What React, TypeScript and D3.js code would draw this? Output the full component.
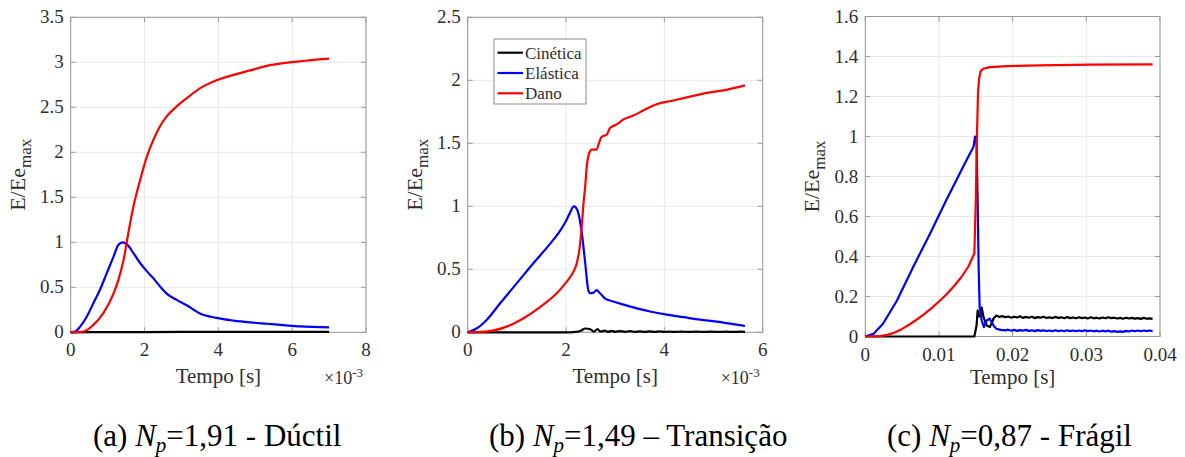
import React from 'react';
import * as d3 from 'd3';

type P = [number, number];

// ---------- Panel (a): Np = 1,91 - Dúctil  (time in 1e-3 s) ----------
const aKin: P[] = [[0, 0], [0.5, 0.001], [1, 0.002], [2, 0.003], [3, 0.004], [4, 0.005], [5, 0.004], [6, 0.005], [7, 0.004]];
const aEla: P[] = [
  [0, 0], [0.12, 0.007], [0.25, 0.06], [0.43, 0.17], [0.61, 0.32], [0.79, 0.47], [0.98, 0.66], [1.16, 0.84],
  [1.29, 0.97], [1.41, 1.0], [1.52, 0.98], [1.7, 0.88], [1.88, 0.77], [2.06, 0.68], [2.24, 0.6], [2.42, 0.51],
  [2.6, 0.43], [2.87, 0.36], [3.14, 0.3], [3.5, 0.21], [3.95, 0.16], [4.41, 0.13], [4.86, 0.11], [5.31, 0.095],
  [5.76, 0.08], [6.21, 0.065], [7.0, 0.055],
];
const aDano: P[] = [
  [0, 0], [0.34, 0.007], [0.61, 0.08], [0.88, 0.21], [1.16, 0.43], [1.29, 0.58], [1.43, 0.8], [1.56, 1.1],
  [1.7, 1.4], [1.88, 1.69], [2.06, 1.95], [2.24, 2.14], [2.42, 2.29], [2.6, 2.4], [2.87, 2.51], [3.14, 2.6],
  [3.5, 2.71], [3.95, 2.8], [4.41, 2.86], [4.86, 2.91], [5.31, 2.96], [5.76, 2.99], [6.21, 3.01], [6.66, 3.03], [7.0, 3.04],
];
const aXTicks = [0, 2, 4, 6, 8];
const aYTicks = [0, 0.5, 1, 1.5, 2, 2.5, 3, 3.5];

// ---------- Panel (b): Np = 1,49 – Transição (time in 1e-3 s) ----------
const bKin: P[] = [
  [0, 0], [2.08, 0], [2.2, 0.003], [2.3, 0.012], [2.39, 0.03], [2.45, 0.028], [2.5, 0.022], [2.57, 0.006],
  [2.64, 0.025], [2.7, 0.006], [2.79, 0.013], [2.85, 0.004], [2.93, 0.011], [3.0, 0.004], [3.1, 0.01], [3.2, 0.004],
  [3.3, 0.009], [3.4, 0.004], [3.5, 0.008], [3.6, 0.003], [3.7, 0.007], [3.8, 0.003], [3.9, 0.007], [4.0, 0.003],
  [4.1, 0.006], [4.2, 0.003], [4.35, 0.006], [4.5, 0.003], [4.65, 0.006], [4.8, 0.003], [4.95, 0.005], [5.1, 0.003],
  [5.25, 0.005], [5.4, 0.003], [5.55, 0.005], [5.64, 0.004],
];
const bEla: P[] = [
  [0, 0], [0.18, 0.03], [0.39, 0.1], [0.66, 0.23], [1.0, 0.39], [1.34, 0.55], [1.67, 0.7], [1.85, 0.79],
  [1.98, 0.87], [2.07, 0.94], [2.16, 1.0], [2.23, 0.97], [2.32, 0.79], [2.39, 0.55], [2.45, 0.34], [2.49, 0.31],
  [2.56, 0.315], [2.62, 0.335], [2.69, 0.31], [2.79, 0.27], [2.96, 0.245], [3.17, 0.22], [3.44, 0.19], [3.71, 0.165],
  [4.05, 0.14], [4.39, 0.12], [4.73, 0.1], [5.06, 0.085], [5.4, 0.065], [5.64, 0.05],
];
const bDano: P[] = [
  [0, 0], [0.45, 0.01], [0.79, 0.045], [1.13, 0.11], [1.47, 0.2], [1.81, 0.31], [2.01, 0.4], [2.15, 0.48],
  [2.22, 0.55], [2.28, 0.68], [2.32, 0.84], [2.35, 1.0], [2.39, 1.16], [2.42, 1.31], [2.47, 1.42], [2.52, 1.45],
  [2.62, 1.45], [2.66, 1.49], [2.72, 1.55], [2.83, 1.57], [2.89, 1.62], [3.03, 1.65], [3.17, 1.69], [3.37, 1.72],
  [3.57, 1.76], [3.84, 1.81], [4.18, 1.84], [4.52, 1.87], [4.86, 1.9], [5.2, 1.92], [5.64, 1.96],
];
const bXTicks = [0, 2, 4, 6];
const bYTicks = [0, 0.5, 1, 1.5, 2, 2.5];

// ---------- Panel (c): Np = 0,87 - Frágil (time in s) ----------
const cKin: P[] = [
  [0, 0], [0.0148, 0], [0.0151, 0.055], [0.01525, 0.13], [0.0154, 0.1], [0.0156, 0.105], [0.0158, 0.145],
  [0.016, 0.105], [0.0163, 0.07], [0.0165, 0.055], [0.0169, 0.047], [0.0172, 0.07], [0.0174, 0.09], [0.0178, 0.105],
  [0.0182, 0.098], [0.0186, 0.102], [0.019, 0.096], [0.0194, 0.1], [0.0198, 0.094], [0.0202, 0.099], [0.0206, 0.095],
  [0.021, 0.101], [0.0214, 0.093], [0.0218, 0.098], [0.0222, 0.094], [0.0226, 0.099], [0.023, 0.092], [0.0234, 0.097],
  [0.0238, 0.094], [0.0242, 0.099], [0.0246, 0.093], [0.025, 0.096], [0.0254, 0.092], [0.0258, 0.098], [0.0262, 0.093],
  [0.0266, 0.096], [0.027, 0.091], [0.0274, 0.097], [0.0278, 0.092], [0.0282, 0.095], [0.0286, 0.091], [0.029, 0.096],
  [0.0294, 0.092], [0.0298, 0.095], [0.0302, 0.09], [0.0306, 0.096], [0.031, 0.091], [0.0314, 0.094], [0.0318, 0.09],
  [0.0322, 0.095], [0.0326, 0.091], [0.033, 0.096], [0.0334, 0.092], [0.0338, 0.094], [0.0342, 0.09], [0.0346, 0.093],
  [0.035, 0.089], [0.0354, 0.094], [0.0358, 0.09], [0.0362, 0.093], [0.0366, 0.089], [0.037, 0.092], [0.0374, 0.088],
  [0.0378, 0.093], [0.0382, 0.089], [0.0386, 0.091], [0.039, 0.088],
];
const cEla: P[] = [
  [0, 0], [0.0011, 0.013], [0.0024, 0.064], [0.0043, 0.18], [0.0065, 0.348], [0.0088, 0.515], [0.011, 0.683],
  [0.0133, 0.85], [0.0147, 0.95], [0.0149, 1.0], [0.0151, 0.967], [0.01525, 0.683], [0.01538, 0.348], [0.01552, 0.147],
  [0.0158, 0.08], [0.0161, 0.047], [0.01647, 0.08], [0.0169, 0.089], [0.0174, 0.055], [0.0178, 0.038], [0.0184, 0.033],
  [0.019, 0.031], [0.0194, 0.034], [0.0198, 0.029], [0.0202, 0.033], [0.0206, 0.028], [0.021, 0.032], [0.0214, 0.029],
  [0.0218, 0.033], [0.0222, 0.028], [0.0226, 0.031], [0.023, 0.027], [0.0234, 0.032], [0.0238, 0.028], [0.0242, 0.031],
  [0.0246, 0.027], [0.025, 0.03], [0.0254, 0.026], [0.0258, 0.031], [0.0262, 0.027], [0.0266, 0.03], [0.027, 0.026],
  [0.0274, 0.031], [0.0278, 0.027], [0.0282, 0.03], [0.0286, 0.026], [0.029, 0.03], [0.0294, 0.027], [0.0298, 0.031],
  [0.0302, 0.027], [0.0306, 0.03], [0.031, 0.026], [0.0314, 0.029], [0.0318, 0.025], [0.0322, 0.029], [0.0326, 0.026],
  [0.033, 0.029], [0.0334, 0.024], [0.0338, 0.027], [0.0342, 0.023], [0.0346, 0.026], [0.035, 0.023], [0.0354, 0.028],
  [0.0358, 0.025], [0.0362, 0.03], [0.0366, 0.026], [0.037, 0.03], [0.0374, 0.026], [0.0378, 0.03], [0.0382, 0.027],
  [0.0386, 0.03], [0.039, 0.027],
];
const cDano: P[] = [
  [0, 0], [0.002, 0.002], [0.003, 0.008], [0.004, 0.02], [0.005, 0.038], [0.006, 0.06], [0.007, 0.085],
  [0.008, 0.112], [0.009, 0.142], [0.01, 0.175], [0.011, 0.21], [0.012, 0.25], [0.013, 0.295], [0.014, 0.35],
  [0.0148, 0.415], [0.015, 0.683], [0.01516, 1.018], [0.0153, 1.218], [0.01543, 1.285], [0.01566, 1.327],
  [0.016, 1.339], [0.0169, 1.347], [0.0192, 1.352], [0.0237, 1.356], [0.0305, 1.359], [0.039, 1.361],
];
const cXTicks = [0, 0.01, 0.02, 0.03, 0.04];
const cYTicks = [0, 0.2, 0.4, 0.6, 0.8, 1, 1.2, 1.4, 1.6];

const seriesNames = ['Cinética', 'Elástica', 'Dano'];
const seriesColors = ['#000000', '#0000ff', '#ff0000'];

const FONT = "'Liberation Serif', 'Times New Roman', 'DejaVu Serif', serif";
const TEXT = '#2e2e2e';
const AXIS = '#9a9a9a';
const GRID = '#e8e8e8';

interface PanelDef {
  left: number; right: number; top: number; bottom: number;
  xMax: number; yMax: number;
  xTicks: number[]; yTicks: number[];
  series: P[][];
  smooth: boolean;
  exponent: boolean;
  xLabelY: number;
  legend: boolean;
  caption: { letter: string; value: string; sep: string; word: string; x: number };
}

const panels: PanelDef[] = [
  {
    left: 70.7, right: 366, top: 17.3, bottom: 332.3, xMax: 8, yMax: 3.5,
    xTicks: aXTicks, yTicks: aYTicks, series: [aKin, aEla, aDano], smooth: true, exponent: true,
    xLabelY: 383, legend: false,
    caption: { letter: '(a) ', value: '=1,91 ', sep: '-', word: ' Dúctil', x: 93 },
  },
  {
    left: 467.7, right: 762.7, top: 17.3, bottom: 332.3, xMax: 6, yMax: 2.5,
    xTicks: bXTicks, yTicks: bYTicks, series: [bKin, bEla, bDano], smooth: true, exponent: true,
    xLabelY: 383, legend: true,
    caption: { letter: '(b) ', value: '=1,49 ', sep: '–', word: ' Transição', x: 489 },
  },
  {
    left: 865.3, right: 1160, top: 16.5, bottom: 336.5, xMax: 0.04, yMax: 1.6,
    xTicks: cXTicks, yTicks: cYTicks, series: [cKin, cEla, cDano], smooth: false, exponent: false,
    xLabelY: 384, legend: false,
    caption: { letter: '(c) ', value: '=0,87 ', sep: '-', word: ' Frágil', x: 887 },
  },
];

function fmt(v: number): string {
  return String(v);
}

const serif = { fontFamily: FONT };

function Panel({ p }: { p: PanelDef }) {
  const x = d3.scaleLinear().domain([0, p.xMax]).range([p.left, p.right]);
  const y = d3.scaleLinear().domain([0, p.yMax]).range([p.bottom, p.top]);
  const line = d3
    .line<P>()
    .x((d) => x(d[0]))
    .y((d) => y(d[1]))
    .curve(p.smooth ? d3.curveMonotoneX : d3.curveLinear);
  const cx = (p.left + p.right) / 2;
  const cy = (p.top + p.bottom) / 2;
  const TL = 5;
  return (
    <g>
      {p.xTicks.map((t) => (
        <line key={'gx' + t} x1={x(t)} x2={x(t)} y1={p.top} y2={p.bottom} stroke={GRID} strokeWidth={1} />
      ))}
      {p.yTicks.map((t) => (
        <line key={'gy' + t} x1={p.left} x2={p.right} y1={y(t)} y2={y(t)} stroke={GRID} strokeWidth={1} />
      ))}
      <rect x={p.left} y={p.top} width={p.right - p.left} height={p.bottom - p.top} fill="none" stroke={AXIS} strokeWidth={1} />
      {p.xTicks.map((t) => (
        <g key={'tx' + t}>
          <line x1={x(t)} x2={x(t)} y1={p.bottom} y2={p.bottom - TL} stroke={AXIS} />
          <line x1={x(t)} x2={x(t)} y1={p.top} y2={p.top + TL} stroke={AXIS} />
          <text x={x(t)} y={p.bottom + 24} textAnchor="middle" style={serif} fontSize={19} fill={TEXT}>
            {fmt(t)}
          </text>
        </g>
      ))}
      {p.yTicks.map((t) => (
        <g key={'ty' + t}>
          <line x1={p.left} x2={p.left + TL} y1={y(t)} y2={y(t)} stroke={AXIS} />
          <line x1={p.right} x2={p.right - TL} y1={y(t)} y2={y(t)} stroke={AXIS} />
          <text x={p.left - 7} y={y(t) + 6} textAnchor="end" style={serif} fontSize={19} fill={TEXT}>
            {fmt(t)}
          </text>
        </g>
      ))}
      {p.series.map((s, i) => (
        <path key={'s' + i} d={line(s) || ''} fill="none" stroke={seriesColors[i]} strokeWidth={2.2} strokeLinejoin="round" />
      ))}
      <text x={cx} y={p.xLabelY} textAnchor="middle" style={serif} fontSize={21} fill={TEXT}>
        Tempo [s]
      </text>
      {p.exponent && (
        <text x={p.right - 3} y={384} textAnchor="end" style={serif} fontSize={18} fill={TEXT}>
          ×10<tspan fontSize={13} dy={-7}>-3</tspan>
        </text>
      )}
      <text
        transform={`translate(${p.left - 46},${cy}) rotate(-90)`}
        textAnchor="middle"
        style={serif}
        fontSize={22}
        fill={TEXT}
      >
        E/Ee<tspan fontSize={17} dy={6}>max</tspan>
      </text>
      {p.legend && (
        <g>
          <rect x={494} y={39} width={92} height={65} fill="#ffffff" stroke="#8c8c8c" strokeWidth={1} />
          {seriesNames.map((n, i) => (
            <g key={n}>
              <line x1={497.5} x2={523} y1={52.7 + i * 20.3} y2={52.7 + i * 20.3} stroke={seriesColors[i]} strokeWidth={2.2} />
              <text x={525} y={52.7 + i * 20.3 + 6} style={serif} fontSize={17} fill={TEXT}>
                {n}
              </text>
            </g>
          ))}
        </g>
      )}
      <text x={p.caption.x} y={446} style={serif} fontSize={31} fill="#000">
        {p.caption.letter}
        <tspan fontStyle="italic">N</tspan>
        <tspan fontStyle="italic" fontSize={21} dy={6}>p</tspan>
        <tspan dy={-6}>{p.caption.value}</tspan>
        {p.caption.sep}
        {p.caption.word}
      </text>
    </g>
  );
}

export default function App() {
  return (
    <svg
      width={1185}
      height={457}
      viewBox="0 0 1185 457"
      style={{ position: 'absolute', left: 0, top: 0, background: '#fff' }}
    >
      <rect x={0} y={0} width={1185} height={457} fill="#fff" />
      {panels.map((p, i) => (
        <Panel key={i} p={p} />
      ))}
    </svg>
  );
}
